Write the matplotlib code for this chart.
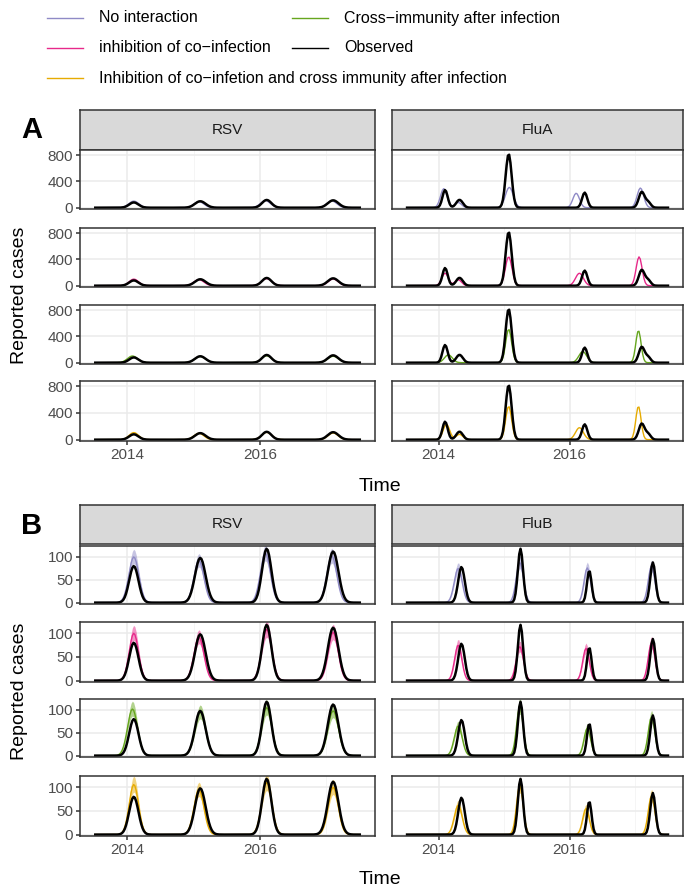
import numpy as np
import matplotlib.pyplot as plt
from matplotlib.lines import Line2D

plt.rcParams['font.family'] = ['Liberation Sans', 'DejaVu Sans']

W, H = 684, 892
fig = plt.figure(figsize=(W / 100, H / 100), dpi=100)

# weekly time grid
t = np.arange(2013.52, 2017.51, 1 / 52)

series_names = ["No interaction", "inhibition of co\u2212infection",
                "Cross\u2212immunity after infection",
                "Inhibition of co\u2212infetion and cross immunity after infection"]
colors = ["#8f8ac6", "#e7298a", "#66a61e", "#e6ab02"]

# seasonal peaks: (time, height, width in years)
rsv_obs = [(2014.1, 80, 0.07), (2015.1, 98, 0.08), (2016.1, 118, 0.07), (2017.1, 112, 0.08)]
rsv_mod = [
    [(2014.1, 100, 0.075), (2015.08, 92, 0.075), (2016.08, 108, 0.075), (2017.08, 102, 0.075)],
    [(2014.1, 100, 0.07), (2015.08, 92, 0.075), (2016.1, 108, 0.075), (2017.1, 102, 0.075)],
    [(2014.08, 102, 0.075), (2015.1, 95, 0.08), (2016.1, 105, 0.075), (2017.1, 98, 0.08)],
    [(2014.1, 106, 0.07), (2015.08, 95, 0.075), (2016.1, 110, 0.075), (2017.1, 100, 0.075)],
]
flua_obs = [(2014.1, 270, 0.04), (2014.32, 120, 0.05), (2015.07, 820, 0.045),
            (2016.23, 230, 0.04), (2017.1, 240, 0.045), (2017.2, 80, 0.04)]
flua_mod = [
    [(2014.08, 290, 0.05), (2014.3, 80, 0.05), (2015.08, 310, 0.06), (2016.1, 220, 0.05), (2017.08, 300, 0.05)],
    [(2014.1, 190, 0.05), (2014.3, 90, 0.05), (2015.07, 440, 0.05), (2016.15, 190, 0.06), (2017.06, 440, 0.045)],
    [(2014.15, 120, 0.06), (2015.07, 510, 0.045), (2016.2, 170, 0.06), (2017.05, 490, 0.04)],
    [(2014.12, 230, 0.05), (2014.32, 80, 0.05), (2015.07, 500, 0.045), (2016.15, 180, 0.06), (2017.05, 500, 0.04)],
]
flub_obs = [(2014.35, 78, 0.05), (2015.25, 118, 0.04), (2016.3, 70, 0.035), (2017.27, 88, 0.04)]
flub_mod = [
    [(2014.3, 75, 0.06), (2015.24, 88, 0.055), (2016.27, 76, 0.05), (2017.25, 80, 0.05)],
    [(2014.3, 75, 0.055), (2015.24, 72, 0.055), (2016.25, 68, 0.05), (2017.25, 80, 0.05)],
    [(2014.3, 65, 0.06), (2015.24, 108, 0.05), (2016.27, 60, 0.05), (2017.25, 85, 0.05)],
    [(2014.3, 62, 0.06), (2015.24, 105, 0.05), (2016.25, 55, 0.05), (2017.25, 82, 0.05)],
]


def curve(peaks):
    y = np.zeros_like(t)
    for c, h, w in peaks:
        y += h * np.exp(-0.5 * ((t - c) / w) ** 2)
    return y


def ax_px(x0, y0, x1, y1):
    return fig.add_axes([x0 / W, 1 - y1 / H, (x1 - x0) / W, (y1 - y0) / H])


def style(ax, ylim, yticks, show_x, show_y):
    ax.set_xlim(2013.29, 2017.73)
    ax.set_ylim(*ylim)
    ax.set_yticks(yticks)
    ax.set_xticks([2014, 2016])
    ax.set_xticks([2015, 2017], minor=True)
    ax.grid(True, which="major", color="#ebebeb", lw=1.1)
    ax.grid(True, which="minor", axis="x", color="#f4f4f4", lw=0.6)
    ax.set_axisbelow(True)
    for s in ax.spines.values():
        s.set_color("#333333")
        s.set_linewidth(1.1)
    ax.tick_params(which="both", length=3, width=1.1, color="#333333", labelsize=11, labelcolor="#4d4d4d", pad=2)
    ax.tick_params(which="minor", length=0)
    if not show_x:
        ax.set_xticklabels([])
        ax.tick_params(axis="x", length=0)
    if not show_y:
        ax.set_yticklabels([])
        ax.tick_params(axis="y", length=0)


def strip(x0, x1, y0, y1, label):
    sa = ax_px(x0, y0, x1, y1)
    sa.set_facecolor("#d9d9d9")
    sa.set_xticks([])
    sa.set_yticks([])
    for s in sa.spines.values():
        s.set_color("#333333")
        s.set_linewidth(1.1)
    sa.text(0.5, 0.5, label, ha="center", va="center", fontsize=11, color="#1a1a1a", transform=sa.transAxes)


cols = [(80, 375), (392, 683)]


def block(strip_y, rows, data, ylim, yticks, ribbon, time_y, letter, letter_y):
    for ci, ((x0, x1), (name, obs, mods)) in enumerate(zip(cols, data)):
        strip(x0, x1, strip_y[0], strip_y[1], name)
        yo = curve(obs)
        for i, (y0, y1) in enumerate(rows):
            ax = ax_px(x0, y0, x1, y1)
            ym = curve(mods[i])
            if ribbon:
                ax.fill_between(t, ym * 0.85, ym * 1.17, color=colors[i], alpha=0.5, lw=0)
            ax.plot(t, ym, color=colors[i], lw=1.0)
            ax.plot(t, yo, color="black", lw=1.8)
            style(ax, ylim, yticks, i == len(rows) - 1, ci == 0)
    fig.text(380 / W, 1 - time_y / H, "Time", ha="center", va="center", fontsize=14)
    mid = (rows[0][0] + rows[-1][1]) / 2
    fig.text(20 / W, 1 - mid / H, "Reported cases", rotation=90, ha="center", va="center", fontsize=14)
    fig.text(32 / W, 1 - letter_y / H, letter, ha="center", va="center", fontsize=21, fontweight="bold")


block((110, 150), [(150, 209), (228, 287), (305, 364), (381, 441)],
      [("RSV", rsv_obs, rsv_mod), ("FluA", flua_obs, flua_mod)],
      (-20, 880), [0, 400, 800], False, 487, "A", 130)
block((505, 544), [(546, 604), (622, 682), (699, 757), (776, 836)],
      [("RSV", rsv_obs, rsv_mod), ("FluB", flub_obs, flub_mod)],
      (-3, 124), [0, 50, 100], True, 880, "B", 526)

# legend drawn manually at top
leg = [(47, 18, colors[0], series_names[0]), (292, 18, colors[2], series_names[2]),
       (47, 48, colors[1], series_names[1]), (292, 48, "black", "Observed"),
       (47, 78, colors[3], series_names[3])]
for x, y, c, lab in leg:
    fig.add_artist(Line2D([x / W, (x + 36) / W], [1 - y / H, 1 - y / H], color=c, lw=1.0))
    fig.text((x + 52) / W, 1 - y / H, lab, ha="left", va="center", fontsize=11.5)

fig.savefig("out.png", dpi=100)
